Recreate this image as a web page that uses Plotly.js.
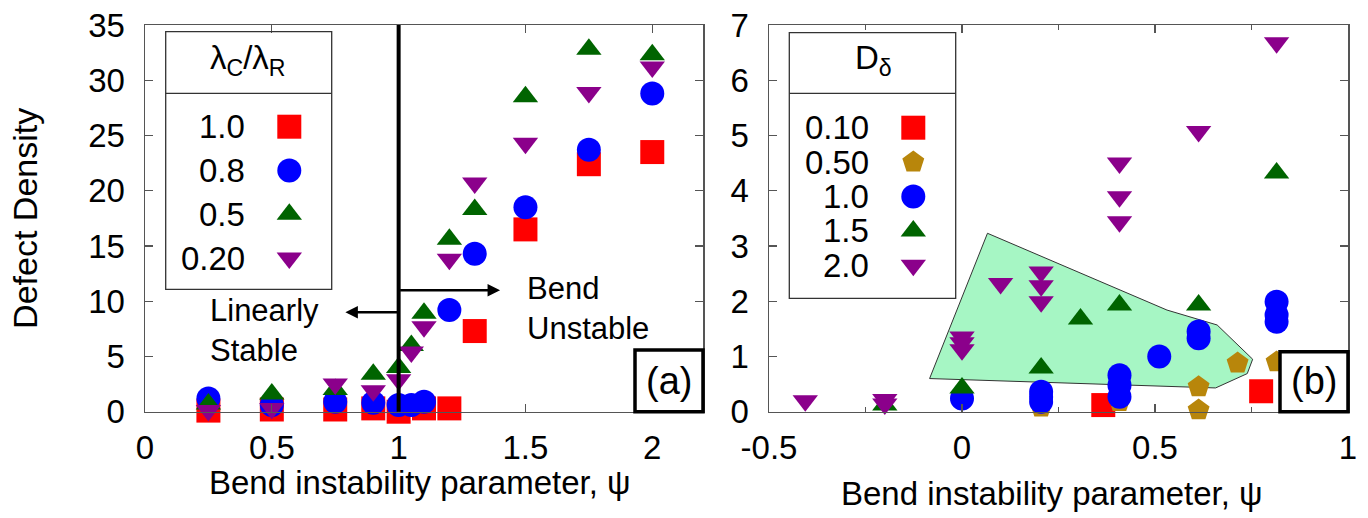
<!DOCTYPE html>
<html>
<head>
<meta charset="utf-8">
<script src="https://cdn.plot.ly/plotly-3.0.1.min.js"></script>
<style>
html,body{margin:0;padding:0;background:#fff;}
#chart{width:1368px;height:518px;}
</style>
</head>
<body>
<div id="chart"></div>
<script>
// ---------------- DATA ----------------
// Panel (a): lambda_C / lambda_R series
const seriesA_names = ["1.0", "0.8", "0.5", "0.20"];
const a10_x = [0.25, 0.5, 0.75, 0.9, 1.0, 1.1, 1.2, 1.3, 1.5, 1.75, 2.0];
const a10_y = [0.1, 0.2, 0.2, 0.3, 0.0, 0.3, 0.3, 7.3, 16.5, 22.4, 23.5];
const a08_x = [0.25, 0.5, 0.75, 0.9, 1.0, 1.05, 1.1, 1.2, 1.3, 1.5, 1.75, 2.0];
const a08_y = [1.2, 0.6, 0.9, 0.8, 0.6, 0.6, 0.9, 9.2, 14.3, 18.5, 23.7, 28.8];
const a05_x = [0.25, 0.5, 0.75, 0.9, 1.0, 1.05, 1.1, 1.2, 1.3, 1.5, 1.75, 2.0];
const a05_y = [0.7, 1.6, 2.0, 3.4, 4.0, 6.0, 8.9, 15.6, 18.3, 28.5, 32.8, 32.3];
const a02_x = [0.25, 0.5, 0.75, 0.9, 1.0, 1.05, 1.1, 1.2, 1.3, 1.5, 1.75, 2.0];
const a02_y = [0.1, 0.3, 2.5, 1.9, 2.9, 5.4, 7.7, 13.8, 20.7, 24.3, 28.9, 31.2];

// Panel (b): D_delta series
const seriesB_names = ["0.10", "0.50", "1.0", "1.5", "2.0"];
const b010_x = [0.366, 0.775];
const b010_y = [0.12, 0.37];
const b050_x = [0.205, 0.408, 0.613, 0.613, 0.714, 0.815];
const b050_y = [0.08, 0.18, 0.45, 0.03, 0.88, 0.90];
const b10_x = [0.0, 0.205, 0.205, 0.205, 0.408, 0.408, 0.408, 0.511, 0.613, 0.613, 0.815, 0.815, 0.815];
const b10_y = [0.24, 0.18, 0.27, 0.36, 0.27, 0.48, 0.66, 1.0, 1.33, 1.45, 1.63, 1.75, 1.99];
const b15_x = [-0.2, 0.0, 0.205, 0.307, 0.408, 0.613, 0.815];
const b15_y = [0.12, 0.43, 0.79, 1.68, 1.93, 1.93, 4.32];
const b20_x = [-0.406, -0.2, -0.2, 0.0, 0.0, 0.0, 0.1, 0.205, 0.205, 0.205, 0.408, 0.408, 0.408, 0.613, 0.815];
const b20_y = [0.2, 0.22, 0.14, 1.35, 1.25, 1.12, 2.32, 2.53, 2.28, 1.99, 3.44, 3.89, 4.50, 5.07, 6.68];

// Shaded region in panel (b)
const region_x = [0.066, 0.531, 0.661, 0.753, 0.739, 0.657, -0.084, 0.066];
const region_y = [3.23, 1.84, 1.57, 0.95, 0.69, 0.43, 0.60, 3.23];

// Tick labels
const xTicksA = [0, 0.5, 1, 1.5, 2];
const xTickTextA = ["0", "0.5", "1", "1.5", "2"];
const yTicksA = [0, 5, 10, 15, 20, 25, 30, 35];
const xTicksB = [-0.5, 0, 0.5, 1];
const xTickTextB = ["-0.5", "0", "0.5", "1"];
const yTicksB = [0, 1, 2, 3, 4, 5, 6, 7];

// ---------------- STYLE / LAYOUT ----------------
const W = 1368, H = 518;
const px = x => x / W;
const py = y => 1 - y / H;
const FONT = "Liberation Sans, Arial, Helvetica, sans-serif";
const FS = 33;
const RED = "#ff0000", BLUE = "#0000ff", GREEN = "#006400", PURPLE = "#8b008b", BROWN = "#b8860b";

const colA = [RED, BLUE, GREEN, PURPLE];
const symA = ["square", "circle", "triangle-up", "triangle-down"];
const sizeA = [24, 24, 22, 22];
const dataA = [[a10_x, a10_y], [a08_x, a08_y], [a05_x, a05_y], [a02_x, a02_y]];

const colB = [RED, BROWN, BLUE, GREEN, PURPLE];
const symB = ["square", "pentagon", "circle", "triangle-up", "triangle-down"];
const sizeB = [24, 23, 24, 22, 22];
const dataB = [[b010_x, b010_y], [b050_x, b050_y], [b10_x, b10_y], [b15_x, b15_y], [b20_x, b20_y]];

const traces = [];
// shaded polygon first
traces.push({
  x: region_x, y: region_y, xaxis: "x2", yaxis: "y2", type: "scatter", mode: "lines",
  fill: "toself", fillcolor: "rgb(166,246,196)", line: {color: "#333", width: 1},
  hoverinfo: "skip", showlegend: false
});
dataA.forEach((d, i) => traces.push({
  x: d[0], y: d[1], xaxis: "x", yaxis: "y", type: "scatter", mode: "markers",
  name: seriesA_names[i], cliponaxis: false,
  marker: {symbol: symA[i], size: sizeA[i], color: colA[i], line: {width: 0}},
  showlegend: false
}));
dataB.forEach((d, i) => traces.push({
  x: d[0], y: d[1], xaxis: "x2", yaxis: "y2", type: "scatter", mode: "markers",
  name: seriesB_names[i], cliponaxis: false,
  marker: {symbol: symB[i], size: sizeB[i], color: colB[i], line: {width: 0}},
  showlegend: false
}));

// custom key (legend) markers on an overlay pixel-space axis
const legA = {x0: 165.7, x1: 331.7, y0: 31.7, y1: 289.3, sep: 93.3, mx: 289.3, tx: 247, ty0: 126.7, dy: 43.8, titleY: 60, titleX: 248};
const legB = {x0: 789.3, x1: 955.7, y0: 32.7, y1: 298.3, sep: 93.3, mx: 913.3, tx: 871, ty0: 127.7, dy: 34.4, titleY: 60, titleX: 873};
seriesA_names.forEach((n, i) => traces.push({
  x: [legA.mx], y: [legA.ty0 + i * legA.dy], xaxis: "x3", yaxis: "y3", type: "scatter", mode: "markers",
  marker: {symbol: symA[i], size: sizeA[i], color: colA[i]}, showlegend: false, hoverinfo: "skip", cliponaxis: false
}));
seriesB_names.forEach((n, i) => traces.push({
  x: [legB.mx], y: [legB.ty0 + i * legB.dy], xaxis: "x3", yaxis: "y3", type: "scatter", mode: "markers",
  marker: {symbol: symB[i], size: sizeB[i], color: colB[i]}, showlegend: false, hoverinfo: "skip", cliponaxis: false
}));

const axisCommon = {
  showgrid: false, zeroline: false, showline: true, linecolor: "#555", linewidth: 1.5,
  mirror: "ticks", ticks: "inside", ticklen: 8, tickwidth: 1.2, tickcolor: "#555",
  tickfont: {family: FONT, size: FS, color: "#000"}, fixedrange: true
};
const txtFont = {family: FONT, size: FS, color: "#000"};
const noteFont = {family: FONT, size: 31, color: "#000"};

const annotations = [];
seriesA_names.forEach((n, i) => annotations.push({
  xref: "paper", yref: "paper", x: px(legA.tx), y: py(legA.ty0 + i * legA.dy),
  xanchor: "right", yanchor: "middle", text: n, showarrow: false, font: txtFont
}));
seriesB_names.forEach((n, i) => annotations.push({
  xref: "paper", yref: "paper", x: px(legB.tx), y: py(legB.ty0 + i * legB.dy),
  xanchor: "right", yanchor: "middle", text: n, showarrow: false, font: txtFont
}));
annotations.push({xref: "paper", yref: "paper", x: px(legA.titleX), y: py(legA.titleY), xanchor: "center", yanchor: "middle",
  text: "λ<sub>C</sub>/λ<sub>R</sub>", showarrow: false, font: txtFont});
annotations.push({xref: "paper", yref: "paper", x: px(legB.titleX), y: py(legB.titleY), xanchor: "center", yanchor: "middle",
  text: "D<sub>δ</sub>", showarrow: false, font: txtFont});
// panel labels
annotations.push({xref: "paper", yref: "paper", x: px(669), y: py(381), xanchor: "center", yanchor: "middle",
  text: "(a)", showarrow: false, font: {family: FONT, size: 38, color: "#000"}});
annotations.push({xref: "paper", yref: "paper", x: px(1314), y: py(381), xanchor: "center", yanchor: "middle",
  text: "(b)", showarrow: false, font: {family: FONT, size: 38, color: "#000"}});
// x-axis titles
annotations.push({xref: "paper", yref: "paper", x: px(420), y: py(482), xanchor: "center", yanchor: "middle",
  text: "Bend instability parameter, ψ", showarrow: false, font: txtFont});
annotations.push({xref: "paper", yref: "paper", x: px(1052), y: py(493), xanchor: "center", yanchor: "middle",
  text: "Bend instability parameter, ψ", showarrow: false, font: txtFont});
// stability text
annotations.push({xref: "paper", yref: "paper", x: px(208), y: py(330), xanchor: "left", yanchor: "middle", align: "left",
  text: "Linearly<br>Stable", showarrow: false, font: noteFont});
annotations.push({xref: "paper", yref: "paper", x: px(525), y: py(308), xanchor: "left", yanchor: "middle", align: "left",
  text: "Bend<br>Unstable", showarrow: false, font: noteFont});
// arrows
annotations.push({xref: "x", yref: "y", x: 1.4, y: 11.0, axref: "x", ayref: "y", ax: 1.0, ay: 11.0, text: "", showarrow: true,
  arrowhead: 2, arrowsize: 1, arrowwidth: 2.5, arrowcolor: "#000", standoff: 0});
annotations.push({xref: "x", yref: "y", x: 0.79, y: 9.0, axref: "x", ayref: "y", ax: 1.0, ay: 9.0, text: "", showarrow: true,
  arrowhead: 2, arrowsize: 1, arrowwidth: 2.5, arrowcolor: "#000", standoff: 0});

const shapes = [
  // vertical stability boundary
  {type: "line", xref: "x", yref: "y domain", x0: 1, x1: 1, y0: 0, y1: 1, line: {color: "#000", width: 4}, layer: "above"},
  // legend boxes
  {type: "rect", xref: "paper", yref: "paper", x0: px(legA.x0), x1: px(legA.x1), y0: py(legA.y0), y1: py(legA.y1), line: {color: "#333", width: 1.3}, fillcolor: "rgba(0,0,0,0)", layer: "above"},
  {type: "line", xref: "paper", yref: "paper", x0: px(legA.x0), x1: px(legA.x1), y0: py(legA.sep), y1: py(legA.sep), line: {color: "#333", width: 1.3}, layer: "above"},
  {type: "rect", xref: "paper", yref: "paper", x0: px(legB.x0), x1: px(legB.x1), y0: py(legB.y0), y1: py(legB.y1), line: {color: "#333", width: 1.3}, fillcolor: "rgba(0,0,0,0)", layer: "above"},
  {type: "line", xref: "paper", yref: "paper", x0: px(legB.x0), x1: px(legB.x1), y0: py(legB.sep), y1: py(legB.sep), line: {color: "#333", width: 1.3}, layer: "above"},
  // panel label boxes
  {type: "rect", xref: "paper", yref: "paper", x0: px(635), x1: px(703), y0: py(350), y1: py(411.7), line: {color: "#000", width: 3.5}, fillcolor: "#fff", layer: "above"},
  {type: "rect", xref: "paper", yref: "paper", x0: px(1280), x1: px(1348), y0: py(351.7), y1: py(411.7), line: {color: "#000", width: 3.5}, fillcolor: "#fff", layer: "above"}
];

const layout = {
  width: W, height: H,
  margin: {l: 0, r: 0, t: 0, b: 0},
  paper_bgcolor: "#fff", plot_bgcolor: "rgba(0,0,0,0)",
  showlegend: false,
  font: {family: FONT, size: FS, color: "#000"},
  xaxis: Object.assign({}, axisCommon, {
    domain: [px(145), px(703)], range: [0, 2.2], anchor: "y",
    tickmode: "array", tickvals: xTicksA, ticktext: xTickTextA, ticklabelstandoff: 6
  }),
  yaxis: Object.assign({}, axisCommon, {
    domain: [py(411.7), py(25)], range: [0, 35], anchor: "x",
    tickmode: "array", tickvals: yTicksA, ticklabelstandoff: 12,
    title: {text: "Defect Density", font: {family: FONT, size: 34, color: "#000"}, standoff: 40}
  }),
  xaxis2: Object.assign({}, axisCommon, {
    domain: [px(769), px(1348)], range: [-0.5, 1], anchor: "y2",
    tickmode: "array", tickvals: xTicksB, ticktext: xTickTextB, ticklabelstandoff: 6,
    minor: {tickmode: "linear", tick0: -0.5, dtick: 0.25, ticks: "inside", ticklen: 5, tickcolor: "#555", showgrid: false}
  }),
  yaxis2: Object.assign({}, axisCommon, {
    domain: [py(411.7), py(25)], range: [0, 7], anchor: "x2",
    tickmode: "array", tickvals: yTicksB, ticklabelstandoff: 12
  }),
  xaxis3: {domain: [0, 1], range: [0, W], anchor: "y3", visible: false, fixedrange: true},
  yaxis3: {domain: [0, 1], range: [H, 0], anchor: "x3", visible: false, fixedrange: true},
  shapes: shapes,
  annotations: annotations
};

Plotly.newPlot("chart", traces, layout, {staticPlot: true, displayModeBar: false});
</script>
</body>
</html>
